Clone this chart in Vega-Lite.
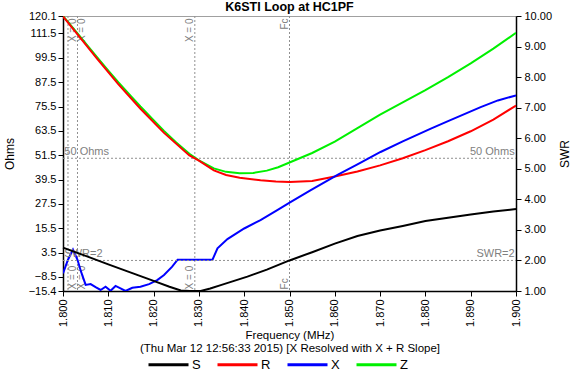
{
  "$schema": "https://vega.github.io/schema/vega-lite/v6.json",
  "width": 453,
  "height": 275,
  "padding": {"left": 3, "top": 0, "right": 3, "bottom": 0},
  "background": "white",
  "title": {"text": "K6STI Loop at HC1PF", "font": "Liberation Sans", "fontSize": 12.5, "fontWeight": "bold", "anchor": "middle", "offset": -3, "color": "black"},
  "config": {
    "view": {"stroke": "#a0a0a0", "strokeWidth": 1},
    "axis": {"labelFont": "Liberation Sans", "labelFontSize": 11, "labelColor": "black", "titleFont": "Liberation Sans", "titleFontSize": 12, "titleFontWeight": "normal", "titleColor": "black", "domainColor": "black", "domainWidth": 1.5, "tickColor": "black", "tickSize": 5, "grid": false, "labelOverlap": false},
    "text": {"font": "Liberation Sans"}
  },
  "datasets": {
    "curves": [
      {"f": 1.8, "series": "Z", "v": 120.1}, {"f": 1.8016, "series": "Z", "v": 115.8}, {"f": 1.8032, "series": "Z", "v": 111.5}, {"f": 1.8055, "series": "Z", "v": 105.3}, {"f": 1.8076, "series": "Z", "v": 99.6}, {"f": 1.81, "series": "Z", "v": 93.2}, {"f": 1.8122, "series": "Z", "v": 87.5}, {"f": 1.815, "series": "Z", "v": 80.6}, {"f": 1.8171, "series": "Z", "v": 75.5}, {"f": 1.82, "series": "Z", "v": 68.8}, {"f": 1.8223, "series": "Z", "v": 63.5}, {"f": 1.825, "series": "Z", "v": 57.8}, {"f": 1.8279, "series": "Z", "v": 52.2}, {"f": 1.83, "series": "Z", "v": 49.0}, {"f": 1.8333, "series": "Z", "v": 45.0}, {"f": 1.836, "series": "Z", "v": 43.3}, {"f": 1.839, "series": "Z", "v": 42.6}, {"f": 1.842, "series": "Z", "v": 42.8}, {"f": 1.845, "series": "Z", "v": 43.9}, {"f": 1.8475, "series": "Z", "v": 45.6}, {"f": 1.85, "series": "Z", "v": 47.9}, {"f": 1.855, "series": "Z", "v": 52.6}, {"f": 1.86, "series": "Z", "v": 58.2}, {"f": 1.865, "series": "Z", "v": 64.9}, {"f": 1.87, "series": "Z", "v": 71.5}, {"f": 1.875, "series": "Z", "v": 77.6}, {"f": 1.88, "series": "Z", "v": 83.6}, {"f": 1.885, "series": "Z", "v": 90.0}, {"f": 1.89, "series": "Z", "v": 96.8}, {"f": 1.895, "series": "Z", "v": 104.0}, {"f": 1.9, "series": "Z", "v": 111.8},
      {"f": 1.8, "series": "R", "v": 119.9}, {"f": 1.8032, "series": "R", "v": 111.1}, {"f": 1.8076, "series": "R", "v": 98.9}, {"f": 1.8122, "series": "R", "v": 86.5}, {"f": 1.8171, "series": "R", "v": 74.4}, {"f": 1.8223, "series": "R", "v": 62.5}, {"f": 1.8279, "series": "R", "v": 51.4}, {"f": 1.83, "series": "R", "v": 48.8}, {"f": 1.8333, "series": "R", "v": 44.0}, {"f": 1.836, "series": "R", "v": 41.8}, {"f": 1.839, "series": "R", "v": 40.4}, {"f": 1.8436, "series": "R", "v": 39.2}, {"f": 1.847, "series": "R", "v": 38.6}, {"f": 1.85, "series": "R", "v": 38.3}, {"f": 1.855, "series": "R", "v": 38.8}, {"f": 1.86, "series": "R", "v": 41.0}, {"f": 1.865, "series": "R", "v": 43.5}, {"f": 1.87, "series": "R", "v": 46.5}, {"f": 1.875, "series": "R", "v": 50.0}, {"f": 1.88, "series": "R", "v": 54.0}, {"f": 1.885, "series": "R", "v": 58.4}, {"f": 1.89, "series": "R", "v": 63.3}, {"f": 1.895, "series": "R", "v": 69.0}, {"f": 1.9, "series": "R", "v": 76.0},
      {"f": 1.8, "series": "X", "v": -6.7}, {"f": 1.8011, "series": "X", "v": 0.0}, {"f": 1.8022, "series": "X", "v": 5.0}, {"f": 1.8032, "series": "X", "v": 0.0}, {"f": 1.804, "series": "X", "v": -6.0}, {"f": 1.805, "series": "X", "v": -12.4}, {"f": 1.8061, "series": "X", "v": -12.0}, {"f": 1.8072, "series": "X", "v": -13.5}, {"f": 1.8083, "series": "X", "v": -14.9}, {"f": 1.8094, "series": "X", "v": -13.3}, {"f": 1.8105, "series": "X", "v": -15.3}, {"f": 1.8116, "series": "X", "v": -12.9}, {"f": 1.8127, "series": "X", "v": -14.1}, {"f": 1.8138, "series": "X", "v": -15.4}, {"f": 1.8153, "series": "X", "v": -13.8}, {"f": 1.8171, "series": "X", "v": -13.3}, {"f": 1.819, "series": "X", "v": -12.0}, {"f": 1.8208, "series": "X", "v": -10.0}, {"f": 1.8223, "series": "X", "v": -7.5}, {"f": 1.8241, "series": "X", "v": -3.4}, {"f": 1.8253, "series": "X", "v": 0.0}, {"f": 1.833, "series": "X", "v": 0.0}, {"f": 1.8341, "series": "X", "v": 5.6}, {"f": 1.8363, "series": "X", "v": 10.2}, {"f": 1.84, "series": "X", "v": 15.4}, {"f": 1.8436, "series": "X", "v": 19.5}, {"f": 1.8473, "series": "X", "v": 24.4}, {"f": 1.8503, "series": "X", "v": 28.5}, {"f": 1.8547, "series": "X", "v": 34.3}, {"f": 1.8606, "series": "X", "v": 41.8}, {"f": 1.865, "series": "X", "v": 47.0}, {"f": 1.8701, "series": "X", "v": 53.1}, {"f": 1.875, "series": "X", "v": 58.3}, {"f": 1.8812, "series": "X", "v": 64.6}, {"f": 1.885, "series": "X", "v": 68.3}, {"f": 1.8922, "series": "X", "v": 75.2}, {"f": 1.896, "series": "X", "v": 78.5}, {"f": 1.9, "series": "X", "v": 81.0}
    ],
    "swr": [
      {"f": 1.8, "series": "S", "v": 2.42}, {"f": 1.805, "series": "S", "v": 2.15}, {"f": 1.81, "series": "S", "v": 1.87}, {"f": 1.815, "series": "S", "v": 1.6}, {"f": 1.82, "series": "S", "v": 1.33}, {"f": 1.8235, "series": "S", "v": 1.14}, {"f": 1.826, "series": "S", "v": 1.02}, {"f": 1.828, "series": "S", "v": 1.0}, {"f": 1.8304, "series": "S", "v": 1.0}, {"f": 1.8325, "series": "S", "v": 1.08}, {"f": 1.835, "series": "S", "v": 1.2}, {"f": 1.8407, "series": "S", "v": 1.47}, {"f": 1.845, "series": "S", "v": 1.7}, {"f": 1.85, "series": "S", "v": 2.0}, {"f": 1.855, "series": "S", "v": 2.27}, {"f": 1.86, "series": "S", "v": 2.55}, {"f": 1.865, "series": "S", "v": 2.8}, {"f": 1.87, "series": "S", "v": 2.98}, {"f": 1.875, "series": "S", "v": 3.13}, {"f": 1.88, "series": "S", "v": 3.29}, {"f": 1.885, "series": "S", "v": 3.4}, {"f": 1.89, "series": "S", "v": 3.5}, {"f": 1.895, "series": "S", "v": 3.6}, {"f": 1.9, "series": "S", "v": 3.68}
    ],
    "vlines": [
      {"f": 1.8011, "label": "X = 0", "top": 118.9, "bottom": -14.6},
      {"f": 1.8032, "label": "X = 0", "top": 118.9, "bottom": -14.6},
      {"f": 1.8291, "label": "X = 0", "top": 118.9, "bottom": -14.6},
      {"f": 1.85, "label": "Fc", "top": 118.9, "bottom": -14.6}
    ]
  },
  "encoding": {
    "x": {"field": "f", "type": "quantitative", "scale": {"domain": [1.8, 1.9], "nice": false, "zero": false},
      "axis": {"values": [1.8, 1.81, 1.82, 1.83, 1.84, 1.85, 1.86, 1.87, 1.88, 1.89, 1.9], "tickCount": 20, "format": ".3f", "labelAngle": 270, "labelPadding": 3, "labelOverlap": false, "titleFontSize": 11.5, "titlePadding": 3, "titleLineHeight": 13,
        "title": ["Frequency (MHz)", "(Thu Mar 12 12:56:33 2015) [X Resolved with X + R Slope]"]}}
  },
  "layer": [
    {
      "layer": [
        {"data": {"name": "vlines"}, "mark": {"type": "rule", "color": "#909090", "strokeDash": [2, 2], "strokeWidth": 1}, "encoding": {"x": {"field": "f", "type": "quantitative"}}},
        {"data": {"values": [{"f": 1.8, "f2": 1.9, "v": 50}]}, "mark": {"type": "rule", "color": "#909090", "strokeDash": [2, 2], "strokeWidth": 1}, "encoding": {"x2": {"field": "f2"}, "y": {"field": "v", "type": "quantitative"}}},
        {"data": {"values": [{"f": 1.8003, "v": 50, "label": "50 Ohms"}]}, "mark": {"type": "text", "align": "left", "baseline": "bottom", "dy": -1, "fontSize": 11, "color": "#808080"}, "encoding": {"y": {"field": "v", "type": "quantitative"}, "text": {"field": "label"}}},
        {"data": {"values": [{"f": 1.8997, "v": 50, "label": "50 Ohms"}]}, "mark": {"type": "text", "align": "right", "baseline": "bottom", "dy": -1, "fontSize": 11, "color": "#808080"}, "encoding": {"y": {"field": "v", "type": "quantitative"}, "text": {"field": "label"}}},
        {"data": {"name": "vlines"}, "transform": [{"filter": "datum.f < 1.81"}], "mark": {"type": "text", "angle": 270, "align": "right", "baseline": "top", "fontSize": 10, "color": "#808080"}, "encoding": {"y": {"field": "top", "type": "quantitative"}, "text": {"field": "label"}}},
        {"data": {"name": "vlines"}, "transform": [{"filter": "datum.f >= 1.81"}], "mark": {"type": "text", "angle": 270, "align": "right", "baseline": "bottom", "fontSize": 10, "color": "#808080"}, "encoding": {"y": {"field": "top", "type": "quantitative"}, "text": {"field": "label"}}},
        {"data": {"name": "vlines"}, "transform": [{"filter": "datum.f < 1.81"}], "mark": {"type": "text", "angle": 270, "align": "left", "baseline": "top", "fontSize": 10, "color": "#808080"}, "encoding": {"y": {"field": "bottom", "type": "quantitative"}, "text": {"field": "label"}}},
        {"data": {"name": "vlines"}, "transform": [{"filter": "datum.f >= 1.81"}], "mark": {"type": "text", "angle": 270, "align": "left", "baseline": "bottom", "fontSize": 10, "color": "#808080"}, "encoding": {"y": {"field": "bottom", "type": "quantitative"}, "text": {"field": "label"}}},
        {"data": {"name": "curves"}, "mark": {"type": "line", "strokeWidth": 2, "clip": true},
          "encoding": {
            "y": {"field": "v", "type": "quantitative", "scale": {"domain": [-15.4, 120.1], "nice": false, "zero": false},
              "axis": {"orient": "left", "title": "Ohms", "values": [-15.4, -8.5, 3.5, 15.5, 27.5, 39.5, 51.5, 63.5, 75.5, 87.5, 99.5, 111.5, 120.1], "tickCount": 20, "format": ".1f", "labelOverlap": false, "labelPadding": 2, "titlePadding": 12}},
            "color": {"field": "series", "type": "nominal", "sort": ["S", "R", "X", "Z"], "scale": {"domain": ["S", "R", "X", "Z"], "range": ["#000000", "#ff0000", "#0000ff", "#00f000"]},
              "legend": {"title": null, "orient": "none", "legendX": 84, "legendY": 327, "direction": "horizontal", "symbolType": "stroke", "symbolSize": 1600, "symbolStrokeWidth": 3, "labelFontSize": 13, "labelFont": "Liberation Sans", "labelColor": "black", "labelOffset": 2, "columnPadding": 10}},
            "order": {"field": "series", "sort": "ascending"}
          }}
      ]
    },
    {
      "layer": [
        {"data": {"values": [{"f": 1.8, "f2": 1.9, "v": 2}]}, "mark": {"type": "rule", "color": "#909090", "strokeDash": [2, 2], "strokeWidth": 1}, "encoding": {"x2": {"field": "f2"}, "y": {"field": "v", "type": "quantitative"}}},
        {"data": {"values": [{"f": 1.8003, "v": 2, "label": "SWR=2"}]}, "mark": {"type": "text", "align": "left", "baseline": "bottom", "dy": -1, "fontSize": 11, "color": "#808080"}, "encoding": {"y": {"field": "v", "type": "quantitative"}, "text": {"field": "label"}}},
        {"data": {"values": [{"f": 1.8997, "v": 2, "label": "SWR=2"}]}, "mark": {"type": "text", "align": "right", "baseline": "bottom", "dy": -1, "fontSize": 11, "color": "#808080"}, "encoding": {"y": {"field": "v", "type": "quantitative"}, "text": {"field": "label"}}},
        {"data": {"name": "swr"}, "mark": {"type": "line", "strokeWidth": 2},
          "encoding": {
            "y": {"field": "v", "type": "quantitative", "scale": {"domain": [1, 10], "nice": false, "zero": false},
              "axis": {"orient": "right", "title": "SWR", "titleAngle": 270, "values": [1, 2, 3, 4, 5, 6, 7, 8, 9, 10], "tickCount": 20, "format": ".2f", "labelOverlap": false, "labelPadding": 3, "titlePadding": 20}},
            "color": {"field": "series", "type": "nominal"}
          }}
      ]
    }
  ],
  "resolve": {"scale": {"y": "independent"}, "axis": {"y": "independent"}}
}
